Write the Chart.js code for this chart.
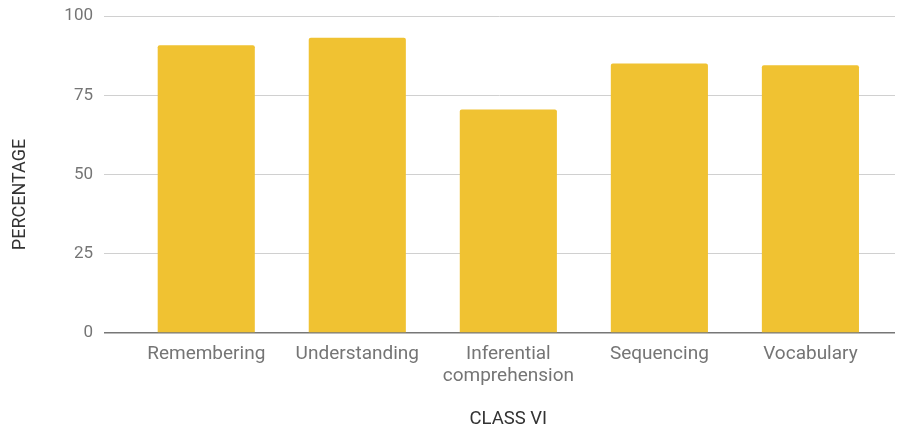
<!DOCTYPE html>
<html><head><meta charset="utf-8">
<script src="https://cdn.jsdelivr.net/npm/chart.js@4/dist/chart.umd.min.js"></script>
<style>html,body{margin:0;padding:0;background:#fff}#wrap{width:902px;height:432px}</style>
</head><body><div id="wrap"><canvas id="c" width="902" height="432"></canvas></div>
<script>
const categories = ["Remembering", "Understanding", ["Inferential", "comprehension"], "Sequencing", "Vocabulary"];
const values = [90.8, 93.1, 70.5, 85.0, 84.5];
const yTicks = [0, 25, 50, 75, 100];
const xTitle = "CLASS VI";
const yTitle = "PERCENTAGE";

const FONT = "Roboto, 'Noto Sans', sans-serif";

const axisTitles = {
  id: 'axisTitles',
  afterDraw(chart) {
    const ctx = chart.ctx, a = chart.chartArea;
    const xs = chart.scales.x;
    ctx.save();
    ctx.fillStyle = '#333';
    ctx.textAlign = 'center';
    ctx.textBaseline = 'middle';
    ctx.font = "18.5px " + FONT;
    const cx = (xs.getPixelForValue(-0.5) + xs.getPixelForValue(categories.length - 0.5)) / 2;
    ctx.fillText(xTitle, cx, chart.height - 12.5);
    ctx.font = "18px " + FONT;
    ctx.translate(20, (a.top + a.bottom) / 2 + 20);
    ctx.rotate(-Math.PI / 2);
    ctx.fillText(yTitle, 0, 0);
    ctx.restore();
  }
};

new Chart(document.getElementById('c'), {
  type: 'bar',
  data: {
    datasets: [{
      data: values.map((v, i) => ({x: i, y: v})),
      backgroundColor: '#F0C232',
      borderRadius: 2,
      borderSkipped: 'bottom',
      barPercentage: 1,
      categoryPercentage: 0.643
    }]
  },
  plugins: [axisTitles],
  options: {
    responsive: false,
    animation: false,
    layout: {padding: {top: 16, right: 7, left: 0, bottom: 0}},
    plugins: {legend: {display: false}, tooltip: {enabled: false}},
    scales: {
      x: {
        type: 'linear',
        bounds: 'data',
        offset: false,
        min: -0.677, max: 4.56,
        afterBuildTicks: s => { s.ticks = categories.map((c, i) => ({value: i})); },
        afterFit: s => { s.height = 99; s.paddingLeft = 0; s.paddingRight = 0; },
        grid: {display: false, offset: false},
        border: {display: false},
        ticks: {
          autoSkip: false, maxRotation: 0, padding: 2,
          color: '#757575', font: {family: FONT, size: 19, lineHeight: 1.17},
          callback: v => categories[v]
        }
      },
      y: {
        min: 0, max: 100,
        afterBuildTicks: s => { s.ticks = yTicks.map(v => ({value: v})); },
        afterFit: s => { s.width = 104; s.paddingTop = 0; s.paddingBottom = 0; },
        grid: {
          drawTicks: false,
          color: c => c.tick && c.tick.value === 0 ? '#777' : '#d0d0d0',
          lineWidth: c => c.tick && c.tick.value === 0 ? 1.5 : 1
        },
        border: {display: false},
        ticks: {padding: 11, color: '#757575', font: {family: FONT, size: 17}}
      }
    }
  }
});
</script></body></html>
